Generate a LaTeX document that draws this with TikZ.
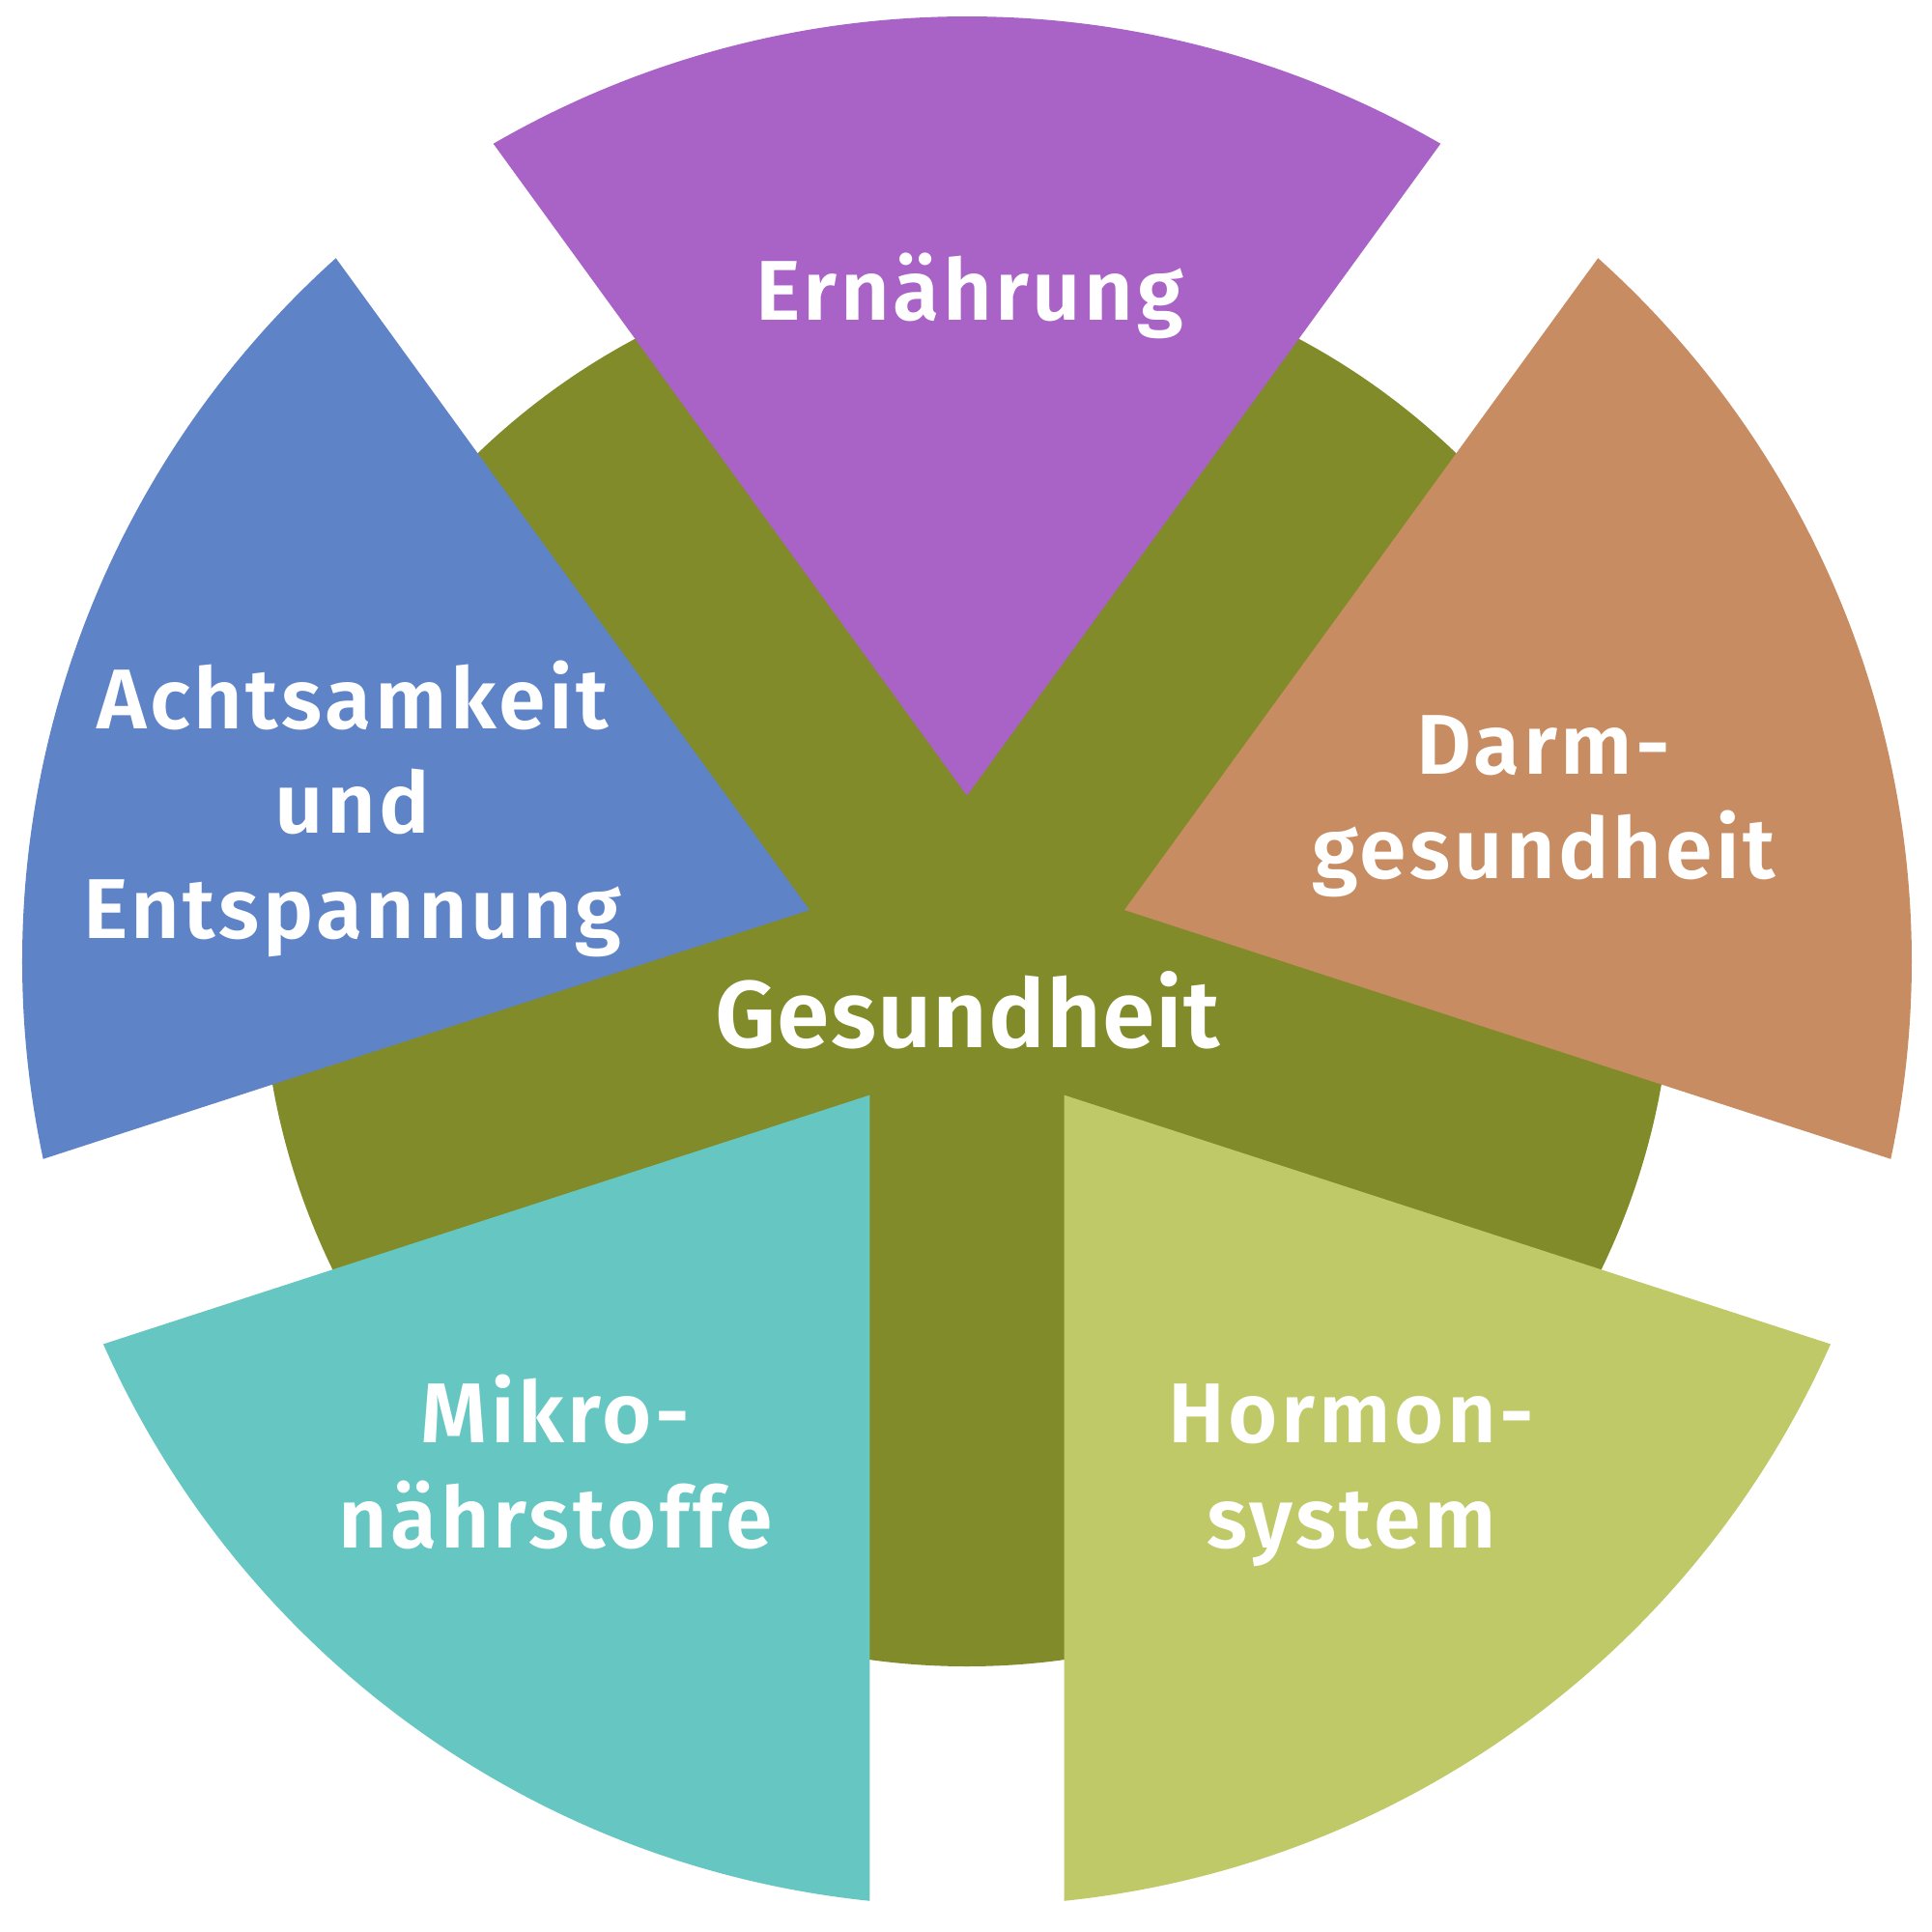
\documentclass[tikz,border=0pt]{standalone}
\usepackage{fontspec}
\setmainfont{Fira Sans}
\newfontfamily\wheelfont[LetterSpace=4]{Fira Sans SemiBold}
\newfontfamily\hubfont[LetterSpace=1]{Fira Sans SemiBold}
\usepackage{xcolor}
\usepackage{tikz}

\definecolor{olive}{RGB}{130,139,41}
\definecolor{ernpurple}{RGB}{169,98,198}
\definecolor{darmbrown}{RGB}{199,140,98}
\definecolor{hormgreen}{RGB}{191,201,104}
\definecolor{mikroteal}{RGB}{102,199,194}
\definecolor{achtblue}{RGB}{95,131,199}

\tikzset{
  label text/.style={text=white,font=\wheelfont\fontsize{25}{30.8}\selectfont,align=center,anchor=base,inner sep=0pt},
  center text/.style={text=white,font=\hubfont\fontsize{28}{34}\selectfont,anchor=base,inner sep=0pt}
}

\begin{document}
\begin{tikzpicture}[x=1cm,y=1cm]
\useasboundingbox (-10.01,-10.05) rectangle (9.99,9.95);

% centre disc
\fill[olive] (0,0) circle (7.30);

% exploded wedges: bisector angle / colour
\def\rout{9.78}
\def\shift{1.714}
\pgfmathsetmacro{\dlt}{asin(\shift*sin(36)/\rout)}
\foreach \ang/\col in {90/ernpurple,18/darmbrown,-54/hormgreen,234/mikroteal,162/achtblue}{
  \pgfmathsetmacro{\sa}{\ang+36-\dlt}
  \pgfmathsetmacro{\ea}{\ang-36+\dlt}
  \fill[\col] (\ang:\shift) -- (\sa:\rout) arc[start angle=\sa,end angle=\ea,radius=\rout] -- cycle;
}

% labels (base = last line)
\node[center text] (ges) at (0.01,-0.89) {Gesundheit};
\node[label text] (ern) at (0.03,6.63) {Ernährung};
\node[label text] (darm) at (5.97,0.85) {Darm-\\gesundheit};
\node[label text] (horm) at (3.98,-6.07) {Hormon-\\system};
\node[label text] (mikro) at (-4.26,-6.07) {Mikro-\\nährstoffe};
\node[label text] (acht) at (-6.36,0.24) {Achtsamkeit\\und\\Entspannung};
\end{tikzpicture}
\end{document}
